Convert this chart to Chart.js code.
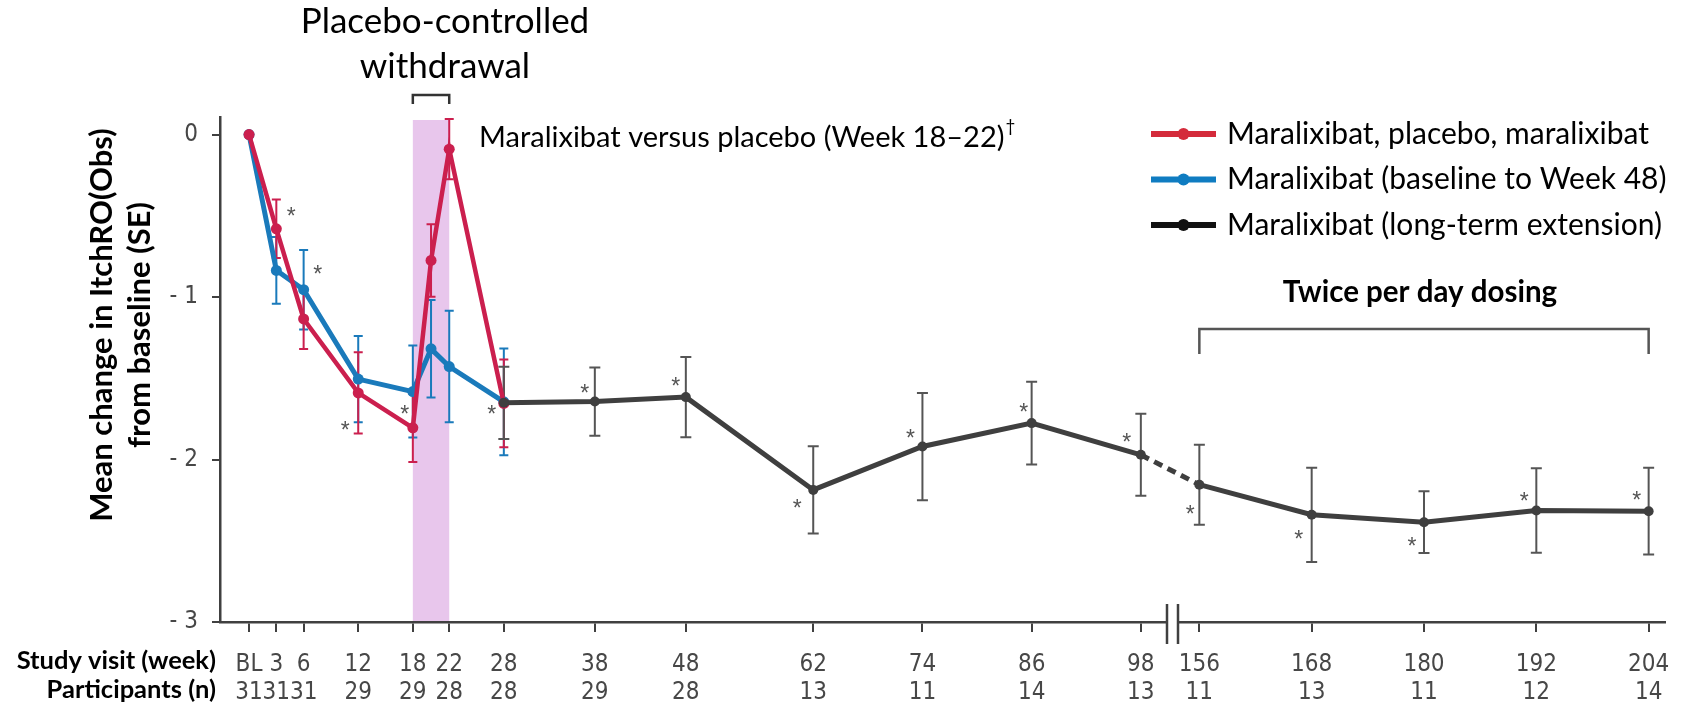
<!DOCTYPE html>
<html>
<head>
<meta charset="utf-8">
<script src="https://cdn.jsdelivr.net/npm/chart.js@4"></script>
<style>
  body { margin: 0; background: #fff; }
  canvas { display: block; }
</style>
</head>
<body>
<canvas id="itchChart" width="1695" height="704"></canvas>
<script>
// study visits on the x axis
const visitWeeks = [0, 3, 6, 12, 18, 22, 28, 38, 48, 62, 74, 86, 98, 156, 168, 180, 192, 204];
const visitLabels = ['BL', '3', '6', '12', '18', '22', '28', '38', '48', '62', '74', '86', '98', '156', '168', '180', '192', '204'];
const participants = [31, 31, 31, 29, 29, 28, 28, 29, 28, 13, 11, 14, 13, 11, 13, 11, 12, 14];

// Maralixibat, placebo, maralixibat
const redWeeks = [0, 3, 6, 12, 18, 20, 22, 28];
const redMean = [0, -0.58, -1.135, -1.59, -1.805, -0.775, -0.09, -1.655];
const redSE = [0, 0.18, 0.185, 0.25, 0.21, 0.223, 0.185, 0.27];

// Maralixibat (baseline to Week 48)
const blueWeeks = [0, 3, 6, 12, 18, 20, 22, 28];
const blueMean = [0, -0.836, -0.955, -1.505, -1.582, -1.319, -1.428, -1.645];
const blueSE = [0, 0.205, 0.245, 0.265, 0.283, 0.30, 0.343, 0.328];

// Maralixibat (long-term extension)
const lteWeeks = [28, 38, 48, 62, 74, 86, 98, 156, 168, 180, 192, 204];
const lteMean = [-1.651, -1.643, -1.616, -2.187, -1.92, -1.776, -1.971, -2.155, -2.34, -2.386, -2.314, -2.318];
const lteSE = [0.222, 0.21, 0.247, 0.268, 0.33, 0.255, 0.252, 0.246, 0.29, 0.19, 0.26, 0.267];

const yTicks = [0, -1, -2, -3];

// axis break between week 98 and week 156; the part after the break is drawn a bit wider
const BREAK_AT = 156;
const BREAK_POS = 104.43;
const POST_BREAK_SCALE = 1.0286;
function axisPos(week) {
  return week >= BREAK_AT ? BREAK_POS + (week - BREAK_AT) * POST_BREAK_SCALE : week;
}

const RED = '#cb1f4e';
const BLUE = '#1a7abb';
const DARK = '#3f3f3f';
const AXIS = '#404040';
const TICK_FONT = "'Liberation Sans Narrow', 'DejaVu Sans Condensed', sans-serif";
const TEXT_FONT = "Lato, 'Open Sans', sans-serif";

// asterisks next to points (pixel offsets from the point)
const stars = [
  { set: 1, i: 1, dx: 15, dy: -15 },
  { set: 2, i: 2, dx: 14, dy: -18 },
  { set: 1, i: 3, dx: -13, dy: 35 },
  { set: 1, i: 4, dx: -8, dy: -16 },
  { set: 0, i: 0, dx: -12, dy: 9 },
  { set: 0, i: 1, dx: -10, dy: -11 },
  { set: 0, i: 2, dx: -10, dy: -13 },
  { set: 0, i: 3, dx: -16, dy: 16 },
  { set: 0, i: 4, dx: -12, dy: -11 },
  { set: 0, i: 5, dx: -8, dy: -13 },
  { set: 0, i: 6, dx: -14, dy: -15 },
  { set: 0, i: 7, dx: -9, dy: 27 },
  { set: 0, i: 8, dx: -13, dy: 22 },
  { set: 0, i: 9, dx: -12, dy: 21 },
  { set: 0, i: 10, dx: -12, dy: -12 },
  { set: 0, i: 11, dx: -12, dy: -14 }
];

function points(weeks, means) {
  return weeks.map((w, i) => ({ x: axisPos(w), y: means[i] }));
}

const errorBars = {
  id: 'errorBars',
  beforeDatasetsDraw(chart) {
    const { ctx, chartArea, scales: { x, y } } = chart;
    // placebo-controlled withdrawal band
    ctx.save();
    ctx.fillStyle = '#e8c6ec';
    const x0 = x.getPixelForValue(axisPos(18));
    const x1 = x.getPixelForValue(axisPos(22));
    ctx.fillRect(x0, 120, x1 - x0, chartArea.bottom - 121);
    ctx.restore();

    for (let di = chart.data.datasets.length - 1; di >= 0; di--) {
      const ds = chart.data.datasets[di];
      const meta = chart.getDatasetMeta(di);
      ctx.save();
      ctx.strokeStyle = ds.errColor;
      ctx.lineWidth = 2;
      meta.data.forEach((pt, i) => {
        const se = ds.se[i];
        if (!se) return;
        const top = y.getPixelForValue(ds.data[i].y + se);
        const bot = y.getPixelForValue(ds.data[i].y - se);
        const cap = ds.capWidth / 2;
        ctx.beginPath();
        ctx.moveTo(pt.x, top); ctx.lineTo(pt.x, bot);
        ctx.moveTo(pt.x - cap, top); ctx.lineTo(pt.x + cap, top);
        ctx.moveTo(pt.x - cap, bot); ctx.lineTo(pt.x + cap, bot);
        ctx.stroke();
      });
      ctx.restore();
    }
  }
};

function drawText(ctx, str, x, y, font, color, align) {
  ctx.font = font;
  ctx.fillStyle = color || '#000';
  ctx.textAlign = align || 'left';
  ctx.textBaseline = 'middle';
  ctx.fillText(str, x, y);
}

const annotations = {
  id: 'annotations',
  afterDraw(chart) {
    const { ctx, chartArea, scales: { x } } = chart;
    ctx.save();

    // asterisks
    stars.forEach(s => {
      const pt = chart.getDatasetMeta(s.set).data[s.i];
      drawText(ctx, '*', pt.x + s.dx, pt.y + s.dy + 4, "23px 'Liberation Sans', sans-serif", '#555', 'center');
    });

    // axis break
    ctx.fillStyle = '#fff';
    ctx.fillRect(1167, chartArea.bottom - 3, 11, 6);
    ctx.strokeStyle = AXIS;
    ctx.lineWidth = 2.5;
    ctx.beginPath();
    ctx.moveTo(1167, 604); ctx.lineTo(1167, 644);
    ctx.moveTo(1178, 604); ctx.lineTo(1178, 644);
    ctx.stroke();

    // placebo-controlled withdrawal bracket
    const b0 = x.getPixelForValue(axisPos(18));
    const b1 = x.getPixelForValue(axisPos(22));
    ctx.strokeStyle = '#333';
    ctx.lineWidth = 2.5;
    ctx.beginPath();
    ctx.moveTo(b0, 104); ctx.lineTo(b0, 95); ctx.lineTo(b1, 95); ctx.lineTo(b1, 104);
    ctx.stroke();

    // twice per day dosing bracket
    const t0 = x.getPixelForValue(axisPos(156));
    const t1 = x.getPixelForValue(axisPos(204));
    ctx.strokeStyle = '#555';
    ctx.lineWidth = 2.5;
    ctx.beginPath();
    ctx.moveTo(t0, 354); ctx.lineTo(t0, 329); ctx.lineTo(t1, 329); ctx.lineTo(t1, 354);
    ctx.stroke();

    drawText(ctx, 'Placebo-controlled', 445, 22, `35px ${TEXT_FONT}`, '#000', 'center');
    drawText(ctx, 'withdrawal', 445, 67, `35px ${TEXT_FONT}`, '#000', 'center');

    const note = 'Maralixibat versus placebo (Week 18\u201322)';
    drawText(ctx, note, 479, 138, `29px ${TEXT_FONT}`, '#000', 'left');
    const noteW = ctx.measureText(note).width;
    drawText(ctx, '\u2020', 479 + noteW + 1, 127, `17px ${TEXT_FONT}`, '#000', 'left');

    drawText(ctx, 'Twice per day dosing', 1420, 292, `bold 29.5px ${TEXT_FONT}`, '#000', 'center');

    // legend
    const legend = [
      ['Maralixibat, placebo, maralixibat', '#d42b3b', 134],
      ['Maralixibat (baseline to Week 48)', '#0f7cc1', 179.5],
      ['Maralixibat (long-term extension)', '#111', 225]
    ];
    legend.forEach(([label, color, ly]) => {
      ctx.strokeStyle = color;
      ctx.lineWidth = 6;
      ctx.beginPath();
      ctx.moveTo(1151, ly); ctx.lineTo(1216, ly);
      ctx.stroke();
      ctx.fillStyle = color;
      ctx.beginPath();
      ctx.arc(1183.5, ly, 6, 0, Math.PI * 2);
      ctx.fill();
      drawText(ctx, label, 1227, ly, `30px ${TEXT_FONT}`, '#000', 'left');
    });

    // y axis title
    ctx.save();
    ctx.translate(102, 325);
    ctx.rotate(-Math.PI / 2);
    drawText(ctx, 'Mean change in ItchRO(Obs)', 0, 0, `bold 31px ${TEXT_FONT}`, '#000', 'center');
    drawText(ctx, 'from baseline (SE)', 0, 38, `bold 31px ${TEXT_FONT}`, '#000', 'center');
    ctx.restore();

    // x axis row titles
    drawText(ctx, 'Study visit (week)', 216, 661, `bold 25.5px ${TEXT_FONT}`, '#000', 'right');
    drawText(ctx, 'Participants (n)', 216, 689.5, `bold 25.5px ${TEXT_FONT}`, '#000', 'right');

    ctx.restore();
  }
};

const ctx = document.getElementById('itchChart');

new Chart(ctx, {
  type: 'line',
  data: {
    datasets: [
      {
        label: 'Maralixibat (long-term extension)',
        data: points(lteWeeks, lteMean),
        se: lteSE,
        errColor: '#555',
        capWidth: 11,
        borderColor: DARK,
        backgroundColor: DARK,
        borderWidth: 5,
        pointRadius: 5,
        pointBorderWidth: 0,
        segment: {
          borderDash: c => (c.p0DataIndex === 6 ? [9, 6] : undefined)
        }
      },
      {
        label: 'Maralixibat, placebo, maralixibat',
        data: points(redWeeks, redMean),
        se: redSE,
        errColor: RED,
        capWidth: 9,
        borderColor: RED,
        backgroundColor: RED,
        borderWidth: 4.5,
        pointRadius: 5.5,
        pointBorderWidth: 0
      },
      {
        label: 'Maralixibat (baseline to Week 48)',
        data: points(blueWeeks, blueMean),
        se: blueSE,
        errColor: BLUE,
        capWidth: 9,
        borderColor: BLUE,
        backgroundColor: BLUE,
        borderWidth: 5,
        pointRadius: 5.5,
        pointBorderWidth: 0
      }
    ]
  },
  options: {
    responsive: false,
    animation: false,
    layout: { padding: { top: 117, right: 30, left: 0, bottom: 0 } },
    plugins: {
      legend: { display: false },
      tooltip: { enabled: false }
    },
    scales: {
      x: {
        type: 'linear',
        min: -3.19,
        max: 155.6,
        afterBuildTicks: s => { s.ticks = visitWeeks.map(w => ({ value: axisPos(w) })); },
        afterFit: s => { s.height = 82; },
        ticks: {
          autoSkip: false,
          maxRotation: 0,
          padding: 18,
          color: '#474747',
          font: { family: TICK_FONT, size: 24, lineHeight: 1.2 },
          callback: (v, i) => [visitLabels[i], String(participants[i])]
        },
        grid: { drawOnChartArea: false, tickLength: 10, color: AXIS, lineWidth: 2 },
        border: { color: AXIS, width: 2.5 }
      },
      y: {
        min: -3,
        max: 0.108,
        afterBuildTicks: s => { s.ticks = yTicks.map(v => ({ value: v })); },
        afterFit: s => { s.width = 220; },
        ticks: {
          padding: 14,
          color: '#474747',
          font: { family: TICK_FONT, size: 24 },
          callback: v => (v === 0 ? '0' : '- ' + Math.abs(v))
        },
        grid: { drawOnChartArea: false, tickLength: 8, color: AXIS, lineWidth: 2 },
        border: { color: AXIS, width: 2.5 }
      }
    }
  },
  plugins: [errorBars, annotations]
});
</script>
</body>
</html>
